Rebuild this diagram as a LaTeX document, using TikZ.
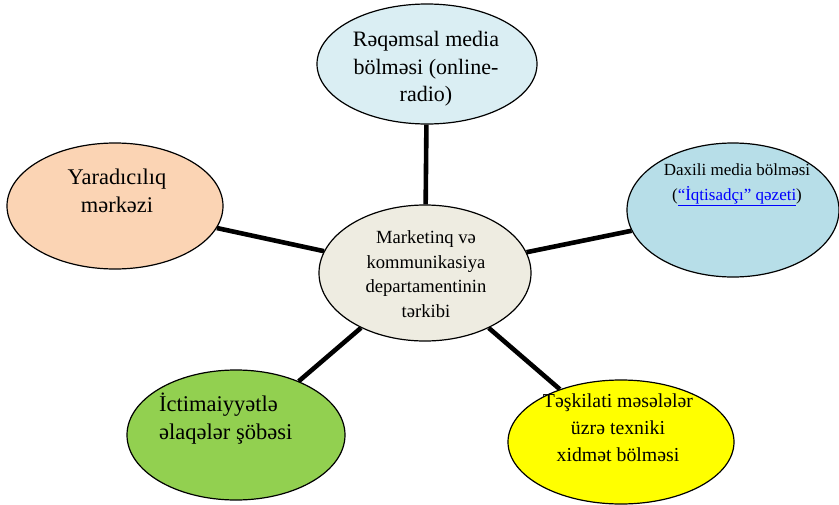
\documentclass[tikz,border=0pt]{standalone}
\usepackage{fontspec}
\setmainfont{Liberation Serif}
\usepackage{tikz}
\usetikzlibrary{shapes.geometric}

\definecolor{aqualight}{HTML}{DAEEF3}
\definecolor{aquamid}{HTML}{B7DEE8}
\definecolor{paper}{HTML}{EEECE1}
\definecolor{peach}{HTML}{FBD4B4}
\definecolor{leaf}{HTML}{92D050}
\definecolor{lemon}{HTML}{FFFF00}

\begin{document}
\begin{tikzpicture}[x=1pt,y=-1pt,
    blob/.style={ellipse,draw,line width=1.2pt,inner sep=0pt},
    spoke/.style={line width=4.6pt},
    label/.style={inner sep=0pt,align=center}]
  \useasboundingbox (0,0) rectangle (839,504);

  % ellipses
  \node[blob,fill=paper,minimum width=212,minimum height=136] (centre) at (425,273) {};
  \node[blob,fill=aqualight,minimum width=220,minimum height=120] (media) at (427,64) {};
  \node[blob,fill=aquamid,minimum width=212,minimum height=134] (daxili) at (733,210) {};
  \node[blob,fill=peach,minimum width=216,minimum height=126] (yarad) at (115,206) {};
  \node[blob,fill=leaf,minimum width=218,minimum height=130] (ictim) at (236,435) {};
  \node[blob,fill=lemon,minimum width=226,minimum height=124] (teshk) at (621,442) {};

  % spokes
  \draw[spoke] (centre) -- (media);
  \draw[spoke] (centre) -- (daxili);
  \draw[spoke] (centre) -- (yarad);
  \draw[spoke] (centre) -- (ictim);
  \draw[spoke] (centre) -- (teshk);

  % texts
  \node[label,font=\fontsize{18.6}{24.7}\selectfont] (centret) at (426,274)
    {Marketinq və\\kommunikasiya\\departamentinin\\tərkibi};
  \node[label,font=\fontsize{22}{27.5}\selectfont] (mediat) at (426,69)
    {Rəqəmsal media\\bölməsi (online-\\radio)};
  \node[label,font=\fontsize{17}{25}\selectfont] (daxilit) at (737,185)
    {Daxili media bölməsi\\(\textcolor{blue}{\underline{“İqtisadçı” qəzeti}})};
  \node[label,font=\fontsize{22.4}{28}\selectfont] (yaradt) at (117,191)
    {Yaradıcılıq\\mərkəzi};
  \node[label,align=left,anchor=west,font=\fontsize{22.5}{28}\selectfont] (ictimt) at (159,419)
    {İctimaiyyətlə\\əlaqələr şöbəsi};
  \node[label,font=\fontsize{19.8}{27}\selectfont] (teshkt) at (618,428)
    {Təşkilati məsələlər\\üzrə texniki\\xidmət bölməsi};
\end{tikzpicture}
\end{document}
